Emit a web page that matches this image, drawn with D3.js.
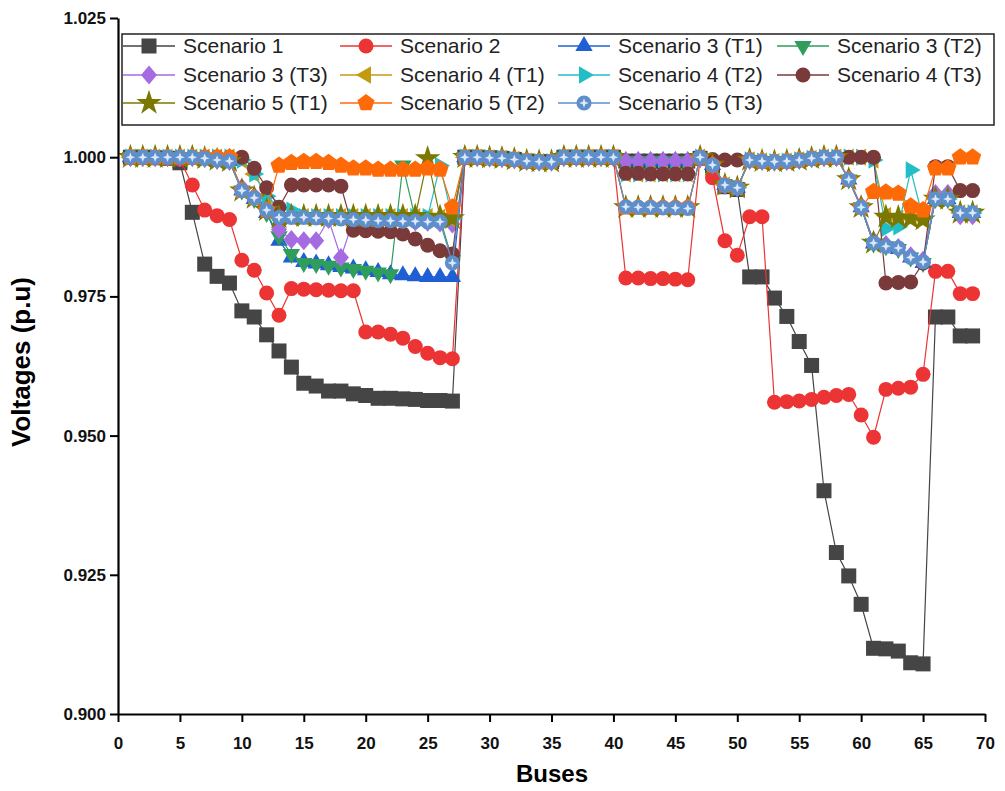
<!DOCTYPE html>
<html>
<head>
<meta charset="utf-8">
<script src="https://cdn.jsdelivr.net/npm/d3@7"></script>
<style>
  body { margin: 0; background: #fff; }
  text { font-family: "Liberation Sans", Arial, sans-serif; }
</style>
</head>
<body>
<svg id="chart" width="1005" height="791"></svg>
<script>
// bus numbers on the x axis
const buses = d3.range(1, 70);

const legendNames = [
  "Scenario 1", "Scenario 2", "Scenario 3 (T1)", "Scenario 3 (T2)",
  "Scenario 3 (T3)", "Scenario 4 (T1)", "Scenario 4 (T2)", "Scenario 4 (T3)",
  "Scenario 5 (T1)", "Scenario 5 (T2)", "Scenario 5 (T3)",
];

const xTicks = [0, 5, 10, 15, 20, 25, 30, 35, 40, 45, 50, 55, 60, 65, 70];
const yTicks = [0.9, 0.925, 0.95, 0.975, 1.0, 1.025];

// voltage profiles (p.u), bus 1..69
const scen1 = [
  1.0000, 1.0000, 0.9999, 0.9998, 0.9990, 0.9901, 0.9808, 0.9786, 0.9774, 0.9724,
  0.9713, 0.9681, 0.9652, 0.9623, 0.9594, 0.9589, 0.9580, 0.9580, 0.9575, 0.9572,
  0.9567, 0.9567, 0.9566, 0.9565, 0.9563, 0.9563, 0.9562, 1.0000, 1.0000, 0.9999,
  0.9998, 0.9996, 0.9993, 0.9992, 0.9992, 1.0000, 1.0000, 1.0000, 1.0000, 1.0000,
  0.9993, 0.9993, 0.9993, 0.9993, 0.9993, 0.9993, 0.9998, 0.9985, 0.9947, 0.9942,
  0.9785, 0.9785, 0.9747, 0.9714, 0.9669, 0.9626, 0.9401, 0.9290, 0.9248, 0.9197,
  0.9118, 0.9117, 0.9113, 0.9092, 0.9090, 0.9713, 0.9713, 0.9679, 0.9679,
];
const scen2 = [
  1.0000, 1.0000, 1.0000, 0.9999, 0.9996, 0.9950, 0.9905, 0.9895, 0.9888, 0.9815,
  0.9797, 0.9756, 0.9716, 0.9764, 0.9763, 0.9762, 0.9761, 0.9760, 0.9760, 0.9686,
  0.9686, 0.9682, 0.9675, 0.9660, 0.9648, 0.9640, 0.9638, 1.0000, 1.0000, 0.9999,
  0.9998, 0.9996, 0.9993, 0.9992, 0.9992, 1.0000, 1.0000, 1.0000, 1.0000, 1.0000,
  0.9783, 0.9783, 0.9782, 0.9782, 0.9781, 0.9780, 1.0000, 0.9963, 0.9850, 0.9824,
  0.9893, 0.9893, 0.9560, 0.9561, 0.9562, 0.9565, 0.9569, 0.9572, 0.9574, 0.9537,
  0.9497, 0.9583, 0.9585, 0.9587, 0.9610, 0.9795, 0.9795, 0.9755, 0.9755,
];
const scen3T1 = [
  1.0000, 1.0000, 1.0000, 1.0000, 1.0000, 1.0000, 0.9998, 0.9995, 0.9993, 0.9940,
  0.9925, 0.9900, 0.9850, 0.9820, 0.9812, 0.9809, 0.9806, 0.9803, 0.9800, 0.9797,
  0.9794, 0.9790, 0.9788, 0.9786, 0.9785, 0.9785, 0.9785, 1.0000, 1.0000, 0.9999,
  0.9998, 0.9996, 0.9993, 0.9992, 0.9992, 1.0000, 1.0000, 1.0000, 1.0000, 1.0000,
  0.9993, 0.9993, 0.9993, 0.9993, 0.9993, 0.9993, 0.9998, 0.9986, 0.9950, 0.9945,
  0.9995, 0.9993, 0.9992, 0.9993, 0.9995, 0.9998, 1.0000, 1.0000, 0.9960, 0.9910,
  0.9845, 0.9840, 0.9835, 0.9820, 0.9810, 0.9925, 0.9925, 0.9900, 0.9900,
];
const scen3T2 = [
  1.0000, 1.0000, 1.0000, 1.0000, 1.0000, 1.0000, 0.9998, 0.9995, 0.9993, 0.9940,
  0.9925, 0.9900, 0.9858, 0.9826, 0.9810, 0.9808, 0.9805, 0.9802, 0.9799, 0.9796,
  0.9793, 0.9790, 0.9985, 0.9890, 0.9890, 0.9890, 0.9815, 1.0000, 1.0000, 0.9999,
  0.9998, 0.9996, 0.9993, 0.9992, 0.9992, 1.0000, 1.0000, 1.0000, 1.0000, 1.0000,
  0.9993, 0.9993, 0.9993, 0.9993, 0.9993, 0.9993, 0.9998, 0.9986, 0.9950, 0.9945,
  0.9995, 0.9993, 0.9992, 0.9993, 0.9995, 0.9998, 1.0000, 1.0000, 0.9960, 0.9910,
  0.9845, 0.9840, 0.9835, 0.9820, 0.9810, 0.9925, 0.9925, 0.9900, 0.9900,
];
const scen3T3 = [
  1.0000, 1.0000, 1.0000, 1.0000, 1.0000, 1.0000, 0.9998, 0.9995, 0.9993, 0.9945,
  0.9930, 0.9905, 0.9870, 0.9852, 0.9850, 0.9850, 0.9888, 0.9820, 0.9887, 0.9886,
  0.9885, 0.9885, 0.9884, 0.9884, 0.9883, 0.9882, 0.9880, 1.0000, 1.0000, 0.9999,
  0.9998, 0.9996, 0.9993, 0.9992, 0.9992, 1.0000, 1.0000, 1.0000, 1.0000, 1.0000,
  0.9993, 0.9993, 0.9993, 0.9993, 0.9993, 0.9993, 0.9998, 0.9986, 0.9950, 0.9945,
  0.9995, 0.9993, 0.9992, 0.9993, 0.9995, 0.9998, 1.0000, 1.0000, 0.9962, 0.9913,
  0.9850, 0.9843, 0.9838, 0.9823, 0.9815, 0.9935, 0.9935, 0.9895, 0.9895,
];
const scen4T1 = [
  1.0000, 1.0000, 1.0000, 1.0000, 1.0000, 1.0000, 1.0000, 1.0000, 1.0000, 0.9995,
  0.9970, 0.9930, 0.9905, 0.9893, 0.9893, 0.9893, 0.9893, 0.9893, 0.9893, 0.9893,
  0.9893, 0.9893, 0.9893, 0.9893, 0.9893, 0.9892, 0.9888, 1.0000, 1.0000, 0.9999,
  0.9998, 0.9996, 0.9993, 0.9992, 0.9992, 1.0000, 1.0000, 1.0000, 1.0000, 1.0000,
  0.9970, 0.9970, 0.9970, 0.9970, 0.9970, 0.9970, 1.0000, 0.9986, 0.9950, 0.9945,
  0.9995, 0.9993, 0.9992, 0.9993, 0.9995, 0.9998, 1.0000, 1.0000, 1.0000, 1.0000,
  0.9995, 0.9895, 0.9890, 0.9890, 0.9888, 0.9925, 0.9925, 0.9900, 0.9900,
];
const scen4T2 = [
  1.0000, 1.0000, 1.0000, 1.0000, 1.0000, 1.0000, 1.0000, 1.0000, 1.0000, 0.9995,
  0.9970, 0.9930, 0.9910, 0.9905, 0.9893, 0.9893, 0.9893, 0.9893, 0.9893, 0.9893,
  0.9893, 0.9893, 0.9893, 0.9893, 0.9893, 0.9985, 0.9890, 1.0000, 1.0000, 0.9999,
  0.9998, 0.9996, 0.9993, 0.9992, 0.9992, 1.0000, 1.0000, 1.0000, 1.0000, 1.0000,
  0.9970, 0.9970, 0.9970, 0.9970, 0.9970, 0.9970, 1.0000, 0.9986, 0.9950, 0.9945,
  0.9995, 0.9993, 0.9992, 0.9993, 0.9995, 0.9998, 1.0000, 1.0000, 1.0000, 1.0000,
  0.9995, 0.9872, 0.9875, 0.9977, 0.9890, 0.9925, 0.9925, 0.9900, 0.9900,
];
const scen4T3 = [
  1.0000, 1.0000, 1.0000, 1.0000, 1.0000, 1.0000, 1.0000, 1.0000, 1.0000, 1.0000,
  0.9980, 0.9945, 0.9910, 0.9950, 0.9950, 0.9950, 0.9950, 0.9948, 0.9869, 0.9868,
  0.9867, 0.9866, 0.9862, 0.9853, 0.9842, 0.9832, 0.9826, 1.0000, 1.0000, 0.9999,
  0.9998, 0.9996, 0.9993, 0.9992, 0.9992, 1.0000, 1.0000, 1.0000, 1.0000, 1.0000,
  0.9971, 0.9971, 0.9970, 0.9970, 0.9970, 0.9970, 1.0000, 0.9996, 0.9995, 0.9995,
  0.9995, 0.9993, 0.9992, 0.9993, 0.9995, 0.9998, 1.0000, 1.0000, 1.0000, 1.0000,
  1.0000, 0.9774, 0.9775, 0.9776, 0.9810, 0.9983, 0.9983, 0.9940, 0.9940,
];
const scen5T1 = [
  1.0000, 1.0000, 1.0000, 1.0000, 1.0000, 1.0000, 0.9998, 0.9995, 0.9993, 0.9940,
  0.9927, 0.9905, 0.9892, 0.9894, 0.9894, 0.9894, 0.9894, 0.9894, 0.9894, 0.9894,
  0.9894, 0.9894, 0.9894, 0.9894, 0.9998, 0.9893, 0.9890, 1.0000, 1.0000, 0.9999,
  0.9998, 0.9996, 0.9993, 0.9992, 0.9992, 1.0000, 1.0000, 1.0000, 1.0000, 1.0000,
  0.9910, 0.9910, 0.9910, 0.9910, 0.9910, 0.9910, 1.0000, 0.9986, 0.9950, 0.9945,
  0.9995, 0.9993, 0.9992, 0.9993, 0.9995, 0.9998, 1.0000, 1.0000, 0.9960, 0.9910,
  0.9846, 0.9893, 0.9892, 0.9890, 0.9888, 0.9925, 0.9925, 0.9900, 0.9900,
];
const scen5T2 = [
  1.0000, 1.0000, 1.0000, 1.0000, 1.0000, 1.0000, 1.0000, 1.0000, 1.0000, 0.9940,
  0.9927, 0.9905, 0.9985, 0.9990, 0.9992, 0.9992, 0.9990, 0.9985, 0.9980, 0.9980,
  0.9978, 0.9978, 0.9978, 0.9978, 0.9980, 0.9978, 0.9910, 1.0000, 1.0000, 0.9999,
  0.9998, 0.9996, 0.9993, 0.9992, 0.9992, 1.0000, 1.0000, 1.0000, 1.0000, 1.0000,
  0.9910, 0.9910, 0.9910, 0.9910, 0.9910, 0.9910, 1.0000, 0.9986, 0.9950, 0.9945,
  0.9995, 0.9993, 0.9992, 0.9993, 0.9995, 0.9998, 1.0000, 1.0000, 0.9960, 0.9910,
  0.9938, 0.9937, 0.9935, 0.9912, 0.9905, 0.9980, 0.9980, 1.0000, 1.0000,
];
const scen5T3 = [
  1.0000, 1.0000, 1.0000, 1.0000, 1.0000, 1.0000, 0.9998, 0.9995, 0.9993, 0.9940,
  0.9927, 0.9905, 0.9892, 0.9892, 0.9892, 0.9891, 0.9890, 0.9889, 0.9888, 0.9887,
  0.9886, 0.9886, 0.9885, 0.9885, 0.9884, 0.9884, 0.9810, 1.0000, 1.0000, 0.9999,
  0.9998, 0.9996, 0.9993, 0.9992, 0.9992, 1.0000, 1.0000, 1.0000, 1.0000, 1.0000,
  0.9911, 0.9910, 0.9910, 0.9909, 0.9909, 0.9908, 1.0000, 0.9986, 0.9950, 0.9945,
  0.9995, 0.9993, 0.9992, 0.9993, 0.9995, 0.9998, 1.0000, 1.0000, 0.9960, 0.9910,
  0.9846, 0.9840, 0.9837, 0.9820, 0.9812, 0.9925, 0.9925, 0.9900, 0.9900,
];

const seriesValues = [scen1, scen2, scen3T1, scen3T2, scen3T3, scen4T1,
  scen4T2, scen4T3, scen5T1, scen5T2, scen5T3];
const colors = ["#454545", "#ec3434", "#1f5fd3", "#2f9d5c", "#a46ce0", "#c49a10",
  "#22bec8", "#7a3a3a", "#7a7800", "#ff6a08", "#5f8fca"];
const shapes = ["square", "circle", "up", "down", "diamond", "left",
  "right", "circle", "star", "pentagon", "ball"];

const svg = d3.select("#chart");
const x = d3.scaleLinear().domain([0, 70]).range([118, 985]);
const y = d3.scaleLinear().domain([0.9, 1.025]).range([714, 18]);

// marker path for each symbol type
function poly(n, r, rot) {
  const pts = d3.range(n).map((k) => {
    const a = rot + (k * 2 * Math.PI) / n;
    return [r * Math.cos(a), r * Math.sin(a)];
  });
  return "M" + pts.map((p) => p.join(",")).join("L") + "Z";
}
function shapePath(s) {
  const deg = Math.PI / 180;
  switch (s) {
    case "square": return "M-7.5,-7.5H7.5V7.5H-7.5Z";
    case "circle": return d3.symbol(d3.symbolCircle, 176)();
    case "ball": return d3.symbol(d3.symbolCircle, 180)();
    case "up": return poly(3, 10, -90 * deg);
    case "down": return poly(3, 10, 90 * deg);
    case "left": return poly(3, 10, 180 * deg);
    case "right": return poly(3, 10, 0);
    case "diamond": return "M0,-9.5L8,0L0,9.5L-8,0Z";
    case "pentagon": return poly(5, 9, -90 * deg);
    case "star": return d3.symbol(d3.symbolStar, 200)();
  }
}
const ballCenter = "M0,-4.8L1.3,-1.3L4.8,0L1.3,1.3L0,4.8L-1.3,1.3L-4.8,0L-1.3,-1.3Z";

function drawMarker(g, i) {
  g.append("path").attr("d", shapePath(shapes[i])).attr("fill", colors[i]);
  if (shapes[i] === "ball") {
    g.append("path").attr("d", ballCenter).attr("fill", "#dbe8f8");
  }
}

// series: line first, then markers, later series on top
const line = d3.line().x((d, i) => x(buses[i])).y((d) => y(d));
seriesValues.forEach((vals, i) => {
  const g = svg.append("g");
  g.append("path")
    .attr("d", line(vals))
    .attr("fill", "none")
    .attr("stroke", colors[i])
    .attr("stroke-width", 1.2);
  g.selectAll("g.m")
    .data(vals)
    .join("g")
    .attr("class", "m")
    .attr("transform", (d, j) => `translate(${x(buses[j])},${y(d)})`)
    .each(function () { drawMarker(d3.select(this), i); });
});

// axes
const yMinor = d3.range(0.9125, 1.025, 0.025);
const xMinor = d3.range(2.5, 70, 5);

const yAxis = svg.append("g").attr("transform", "translate(118,0)");
yAxis.call(d3.axisLeft(y).tickValues(yMinor).tickSize(4).tickFormat(""));
yAxis.call(d3.axisLeft(y).tickValues(yTicks).tickSize(8).tickSizeOuter(0)
  .tickPadding(4).tickFormat(d3.format(".3f")));
const xAxis = svg.append("g").attr("transform", "translate(0,714)");
xAxis.call(d3.axisBottom(x).tickValues(xMinor).tickSize(4).tickFormat(""));
xAxis.call(d3.axisBottom(x).tickValues(xTicks).tickSize(8).tickSizeOuter(0)
  .tickPadding(15).tickFormat(d3.format("d")));

svg.selectAll(".domain").attr("stroke", "#000").attr("stroke-width", 2.2);
svg.selectAll(".tick line").attr("stroke", "#000").attr("stroke-width", 2);
yAxis.selectAll("text")
  .style("font-size", "17px").style("font-weight", "bold").attr("fill", "#111");
xAxis.selectAll("text")
  .style("font-family", "'Liberation Sans Narrow', 'Arial Narrow', 'Liberation Sans', sans-serif")
  .style("font-size", "17px").style("font-weight", "bold").attr("fill", "#111");

svg.append("text")
  .attr("transform", "translate(30,362) rotate(-90)")
  .attr("text-anchor", "middle")
  .style("font-size", "26px").style("font-weight", "bold")
  .text("Voltages (p.u)");
svg.append("text")
  .attr("x", 552).attr("y", 782)
  .attr("text-anchor", "middle")
  .style("font-size", "24px").style("font-weight", "bold")
  .text("Buses");

// legend
const legend = svg.append("g");
legend.append("rect")
  .attr("x", 122).attr("y", 34).attr("width", 872).attr("height", 91)
  .attr("fill", "#fff").attr("stroke", "#222").attr("stroke-width", 1.5);
const colX = [183, 400, 618, 837];
const rowY = [46, 75, 103];
legendNames.forEach((name, i) => {
  const cx = colX[i % 4];
  const cy = rowY[Math.floor(i / 4)];
  const item = legend.append("g");
  item.append("line")
    .attr("x1", cx - 60).attr("x2", cx - 8)
    .attr("y1", cy).attr("y2", cy)
    .attr("stroke", colors[i]).attr("stroke-width", 1.5);
  const m = item.append("g").attr("transform", `translate(${cx - 34},${cy})`);
  drawMarker(m, i);
  item.append("text")
    .attr("x", cx).attr("y", cy).attr("dy", "0.35em")
    .style("font-size", "21px").attr("fill", "#222")
    .text(name);
});
</script>
</body>
</html>
